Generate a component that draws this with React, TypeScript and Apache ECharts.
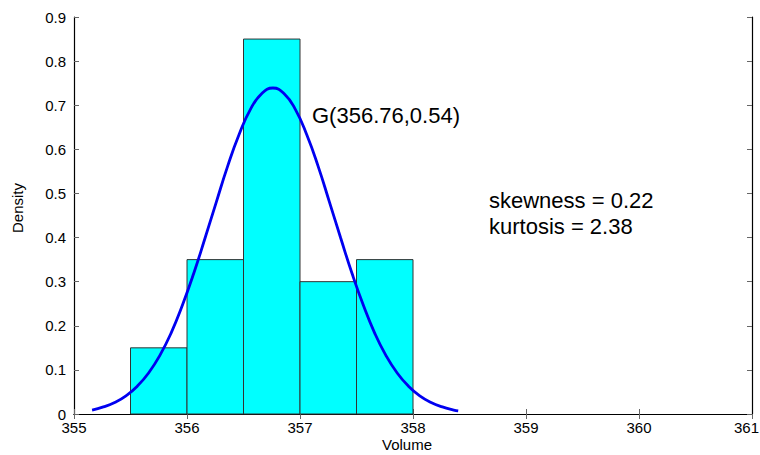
import React, { useEffect, useRef } from "react";
import * as echarts from "echarts";

const binStarts = [355.5, 356.0, 356.5, 357.0, 357.5];
const binEnds = [356.0, 356.5, 357.0, 357.5, 358.0];
const densities = [0.15, 0.35, 0.85, 0.3, 0.35];

const curveX = [
  355.16, 355.26, 355.36, 355.46, 355.56, 355.66, 355.76, 355.86, 355.96, 356.06,
  356.16, 356.26, 356.36, 356.46, 356.56, 356.66, 356.76, 356.86, 356.96, 357.06,
  357.16, 357.26, 357.36, 357.46, 357.56, 357.66, 357.76, 357.86, 357.96, 358.06,
  358.16, 358.26, 358.36, 358.4,
];
const curveY = [
  0.009, 0.016, 0.026, 0.041, 0.063, 0.093, 0.133, 0.184, 0.247, 0.319,
  0.399, 0.481, 0.562, 0.633, 0.69, 0.726, 0.739, 0.726, 0.69, 0.633,
  0.562, 0.481, 0.399, 0.319, 0.247, 0.184, 0.133, 0.093, 0.063, 0.041,
  0.026, 0.016, 0.009, 0.007,
];

const xMin = 355;
const xMax = 361;
const fitLabel = "G(356.76,0.54)";
const statLines = ["skewness = 0.22", "kurtosis = 2.38"];
const xTitle = "Volume";
const yTitle = "Density";

const FONT = "'Liberation Sans', Arial, sans-serif";

export default function App() {
  const ref = useRef<HTMLDivElement>(null);
  useEffect(() => {
    if (!ref.current) return;
    const chart = echarts.init(ref.current, null, { renderer: "svg" });
    const histData = binStarts.map((s, i) => [s, binEnds[i], densities[i]]);
    const lineData = curveX.map((x, i) => [x, curveY[i]]);
    const tickStyle = { show: true, inside: true, length: 5, lineStyle: { color: "#666", width: 1 } };
    const axisLineStyle = { show: true, lineStyle: { color: "#000", width: 1.2 } };
    chart.setOption({
      animation: false,
      backgroundColor: "#fff",
      grid: { left: 74, right: 8, top: 17, bottom: 41, outerBoundsMode: "none", containLabel: false },
      xAxis: [
        {
          type: "value",
          min: xMin,
          max: xMax,
          interval: 1,
          position: "bottom",
          axisLine: axisLineStyle,
          axisTick: tickStyle,
          splitLine: { show: false },
          axisLabel: { color: "#000", fontSize: 15, fontFamily: FONT, margin: 6, showMaxLabel: false },
        },
        {
          type: "value",
          min: xMin,
          max: xMax,
          interval: 1,
          position: "top",
          axisLine: axisLineStyle,
          axisTick: tickStyle,
          splitLine: { show: false },
          axisLabel: { show: false },
        },
      ],
      yAxis: [
        {
          type: "value",
          min: 0,
          max: 0.9,
          interval: 0.1,
          position: "left",
          axisLine: axisLineStyle,
          axisTick: tickStyle,
          splitLine: { show: false },
          axisLabel: {
            color: "#000",
            fontSize: 15,
            fontFamily: FONT,
            margin: 8,
            formatter: (v: number) => (Math.round(v * 10) / 10).toString(),
          },
        },
        {
          type: "value",
          min: 0,
          max: 0.9,
          interval: 0.1,
          position: "right",
          axisLine: axisLineStyle,
          axisTick: tickStyle,
          splitLine: { show: false },
          axisLabel: { show: false },
        },
      ],
      series: [
        {
          type: "custom",
          xAxisIndex: 0,
          yAxisIndex: 0,
          data: histData,
          encode: { x: [0, 1], y: 2 },
          renderItem: (params: any, api: any) => {
            const p1 = api.coord([api.value(0), api.value(2)]);
            const p2 = api.coord([api.value(1), 0]);
            return {
              type: "rect",
              shape: { x: p1[0], y: p1[1], width: p2[0] - p1[0], height: p2[1] - p1[1] },
              style: { fill: "#00ffff", stroke: "#333", lineWidth: 1 },
            };
          },
        },
        {
          type: "line",
          xAxisIndex: 0,
          yAxisIndex: 0,
          data: lineData,
          showSymbol: false,
          smooth: true,
          lineStyle: { color: "#0000f0", width: 2.8 },
          z: 5,
        },
      ],
      graphic: [
        {
          type: "text",
          right: 1,
          top: 420,
          style: { text: String(xMax), fontSize: 15, fontFamily: FONT, fill: "#000" },
        },
        {
          type: "text",
          left: 312,
          top: 104,
          style: { text: fitLabel, fontSize: 22, fontFamily: FONT, fill: "#000" },
        },
        {
          type: "text",
          left: 489,
          top: 189,
          style: { text: statLines[0], fontSize: 22, fontFamily: FONT, fill: "#000" },
        },
        {
          type: "text",
          left: 489,
          top: 215,
          style: { text: statLines[1], fontSize: 22, fontFamily: FONT, fill: "#000" },
        },
        {
          type: "text",
          left: 382,
          top: 437,
          style: { text: xTitle, fontSize: 15, fontFamily: FONT, fill: "#000" },
        },
        {
          type: "text",
          left: 10,
          top: 183,
          rotation: Math.PI / 2,
          style: { text: yTitle, fontSize: 15, fontFamily: FONT, fill: "#000" },
        },
      ],
    });
    return () => chart.dispose();
  }, []);
  return <div ref={ref} style={{ width: 760, height: 455, position: "absolute", left: 0, top: 0 }} />;
}
